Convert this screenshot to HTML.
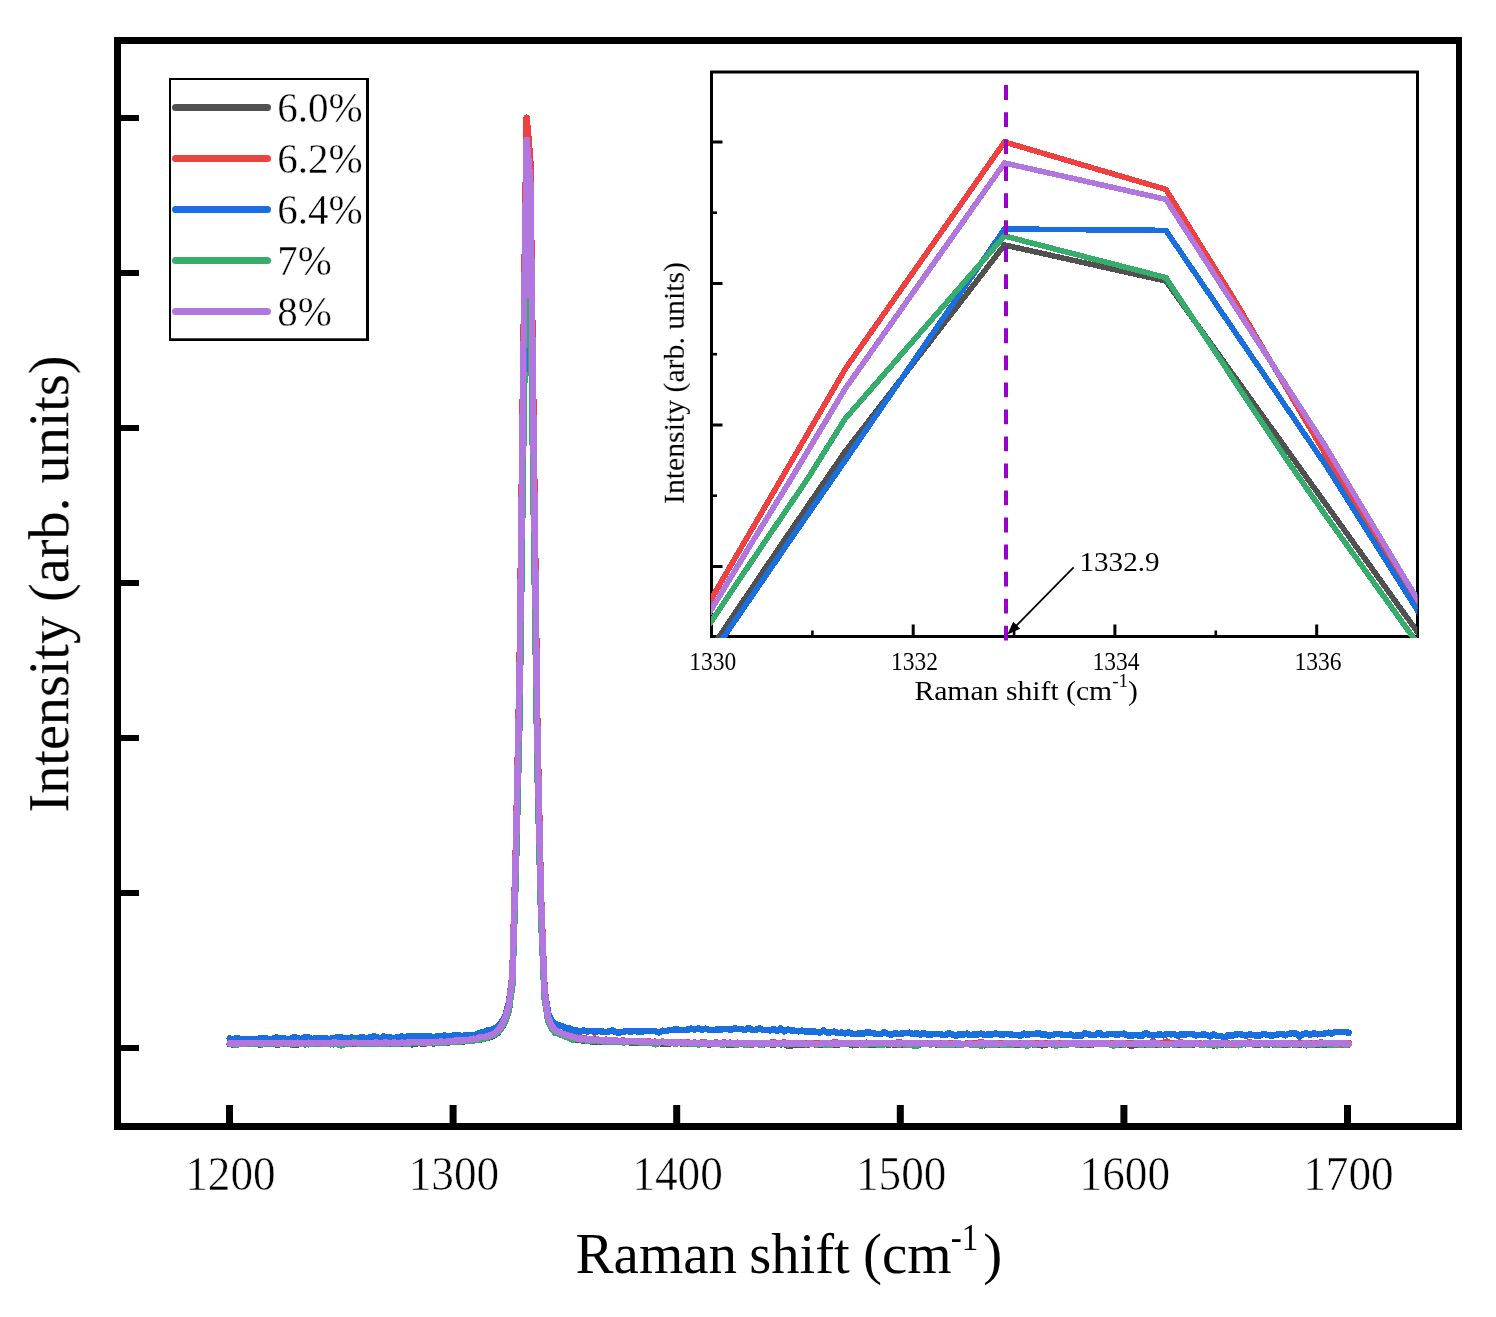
<!DOCTYPE html>
<html><head><meta charset="utf-8"><title>Raman</title>
<style>
html,body{margin:0;padding:0;background:#fff;}
body{width:1496px;height:1317px;overflow:hidden;font-family:"Liberation Serif",serif;}
svg{display:block;}
text{font-family:"Liberation Serif",serif;fill:#000;}
</style></head><body>
<svg width="1496" height="1317" viewBox="0 0 1496 1317">
<rect width="1496" height="1317" fill="#fff"/>
<!-- main data -->
<g fill="none" stroke-width="6.5" stroke-linejoin="round" stroke-linecap="round" shape-rendering="crispEdges">
<path d="M229.72 1044.12 L233.30 1044.44 L236.88 1044.31 L240.46 1043.83 L244.03 1043.79 L247.61 1043.82 L251.19 1044.16 L254.77 1043.85 L258.34 1044.34 L261.92 1044.28 L265.50 1043.37 L269.08 1043.97 L272.65 1043.79 L276.23 1044.48 L279.81 1044.23 L283.39 1044.01 L286.97 1042.39 L290.54 1044.12 L294.12 1044.39 L297.70 1044.52 L301.28 1043.84 L304.85 1044.36 L308.43 1043.87 L312.01 1043.90 L315.59 1044.16 L319.16 1044.05 L322.74 1043.87 L326.32 1043.94 L329.90 1043.58 L333.47 1044.28 L337.05 1043.82 L340.63 1043.97 L344.21 1043.53 L347.78 1043.72 L351.36 1043.51 L354.94 1043.74 L358.52 1044.10 L362.09 1044.13 L365.67 1043.75 L369.25 1043.75 L372.83 1043.87 L376.41 1043.66 L379.98 1043.76 L383.56 1043.84 L387.14 1043.74 L390.72 1043.46 L394.29 1043.87 L397.87 1044.24 L401.45 1043.56 L405.03 1043.19 L408.60 1042.39 L412.18 1044.52 L415.76 1043.41 L419.34 1043.12 L422.91 1043.59 L426.49 1043.31 L430.07 1043.03 L433.65 1043.45 L437.22 1042.99 L440.80 1042.71 L444.38 1042.51 L447.96 1042.88 L451.53 1041.79 L455.11 1041.56 L458.69 1041.78 L462.27 1041.64 L465.85 1041.02 L469.42 1041.24 L473.00 1040.63 L476.58 1039.50 L480.16 1039.71 L483.73 1038.33 L487.31 1037.96 L490.89 1036.69 L494.47 1035.14 L498.04 1032.68 L501.62 1027.82 L505.20 1021.62 L508.78 1010.99 L512.35 984.90 L515.93 869.53 L519.51 719.81 L523.09 454.24 L526.66 230.35 L530.24 266.84 L533.82 516.81 L537.40 767.61 L540.97 913.31 L544.55 998.00 L548.13 1020.61 L551.71 1028.70 L555.29 1032.51 L558.86 1033.84 L562.44 1035.32 L566.02 1036.82 L569.60 1037.95 L573.17 1040.11 L576.75 1039.65 L580.33 1040.04 L583.91 1040.60 L587.48 1040.73 L591.06 1041.39 L594.64 1041.52 L598.22 1041.23 L601.79 1041.90 L605.37 1041.23 L608.95 1041.33 L612.53 1042.09 L616.10 1042.23 L619.68 1042.17 L623.26 1042.17 L626.84 1041.75 L630.41 1042.50 L633.99 1042.89 L637.57 1042.94 L641.15 1042.39 L644.73 1042.59 L648.30 1042.99 L651.88 1042.91 L655.46 1043.48 L659.04 1043.10 L662.61 1043.61 L666.19 1043.70 L669.77 1043.38 L673.35 1042.94 L676.92 1041.88 L680.50 1043.24 L684.08 1043.86 L687.66 1043.53 L691.23 1043.83 L694.81 1043.45 L698.39 1043.67 L701.97 1044.23 L705.54 1044.04 L709.12 1044.42 L712.70 1044.14 L716.28 1044.06 L719.85 1044.02 L723.43 1044.07 L727.01 1044.31 L730.59 1044.58 L734.17 1044.21 L737.74 1044.52 L741.32 1043.82 L744.90 1043.79 L748.48 1043.81 L752.05 1044.55 L755.63 1043.94 L759.21 1044.47 L762.79 1044.69 L766.36 1044.03 L769.94 1044.22 L773.52 1044.81 L777.10 1043.98 L780.67 1044.34 L784.25 1044.02 L787.83 1045.85 L791.41 1045.57 L794.98 1044.35 L798.56 1044.80 L802.14 1044.76 L805.72 1044.72 L809.29 1044.12 L812.87 1044.03 L816.45 1044.67 L820.03 1044.53 L823.61 1044.26 L827.18 1044.38 L830.76 1044.19 L834.34 1044.67 L837.92 1044.76 L841.49 1043.89 L845.07 1044.13 L848.65 1044.10 L852.23 1045.30 L855.80 1044.81 L859.38 1044.01 L862.96 1044.13 L866.54 1042.75 L870.11 1044.82 L873.69 1044.43 L877.27 1044.34 L880.85 1044.17 L884.42 1043.60 L888.00 1044.64 L891.58 1044.10 L895.16 1044.85 L898.73 1044.73 L902.31 1044.41 L905.89 1044.31 L909.47 1044.61 L913.05 1044.27 L916.62 1044.63 L920.20 1044.33 L923.78 1043.99 L927.36 1044.01 L930.93 1044.19 L934.51 1044.03 L938.09 1044.81 L941.67 1044.23 L945.24 1044.24 L948.82 1044.11 L952.40 1044.22 L955.98 1044.93 L959.55 1044.20 L963.13 1044.27 L966.71 1043.97 L970.29 1044.44 L973.86 1044.17 L977.44 1043.98 L981.02 1044.07 L984.60 1045.32 L988.17 1044.61 L991.75 1044.94 L995.33 1044.14 L998.91 1044.77 L1002.49 1044.75 L1006.06 1044.48 L1009.64 1044.60 L1013.22 1044.81 L1016.80 1044.49 L1020.37 1044.68 L1023.95 1044.89 L1027.53 1044.54 L1031.11 1043.99 L1034.68 1044.77 L1038.26 1044.93 L1041.84 1045.35 L1045.42 1044.93 L1048.99 1043.12 L1052.57 1044.59 L1056.15 1043.15 L1059.73 1044.71 L1063.30 1044.49 L1066.88 1044.02 L1070.46 1044.21 L1074.04 1044.22 L1077.61 1044.16 L1081.19 1044.93 L1084.77 1044.33 L1088.35 1044.63 L1091.93 1044.56 L1095.50 1044.02 L1099.08 1044.19 L1102.66 1044.24 L1106.24 1043.95 L1109.81 1044.20 L1113.39 1044.63 L1116.97 1044.22 L1120.55 1044.39 L1124.12 1044.05 L1127.70 1044.13 L1131.28 1046.16 L1134.86 1044.00 L1138.43 1044.92 L1142.01 1044.31 L1145.59 1044.85 L1149.17 1044.01 L1152.74 1044.18 L1156.32 1044.52 L1159.90 1044.19 L1163.48 1044.27 L1167.05 1044.78 L1170.63 1044.06 L1174.21 1044.58 L1177.79 1044.63 L1181.37 1044.28 L1184.94 1044.23 L1188.52 1044.23 L1192.10 1044.83 L1195.68 1043.90 L1199.25 1044.14 L1202.83 1044.28 L1206.41 1043.96 L1209.99 1044.64 L1213.56 1045.46 L1217.14 1044.52 L1220.72 1044.85 L1224.30 1044.19 L1227.87 1044.66 L1231.45 1043.90 L1235.03 1044.27 L1238.61 1044.42 L1242.18 1043.95 L1245.76 1044.28 L1249.34 1044.00 L1252.92 1044.35 L1256.49 1044.41 L1260.07 1044.27 L1263.65 1044.11 L1267.23 1044.51 L1270.81 1044.09 L1274.38 1044.52 L1277.96 1044.49 L1281.54 1044.35 L1285.12 1044.40 L1288.69 1044.18 L1292.27 1044.27 L1295.85 1044.09 L1299.43 1044.40 L1303.00 1044.21 L1306.58 1045.34 L1310.16 1044.22 L1313.74 1044.04 L1317.31 1044.58 L1320.89 1044.40 L1324.47 1044.51 L1328.05 1044.62 L1331.62 1043.92 L1335.20 1044.21 L1338.78 1044.25 L1342.36 1044.63 L1345.93 1043.94 L1348.73 1044.58" stroke="#515151"/>
<path d="M229.72 1043.70 L233.30 1042.80 L236.88 1043.64 L240.46 1043.17 L244.03 1043.47 L247.61 1042.83 L251.19 1042.77 L254.77 1043.35 L258.34 1043.53 L261.92 1042.10 L265.50 1042.85 L269.08 1043.25 L272.65 1042.72 L276.23 1043.22 L279.81 1042.68 L283.39 1043.08 L286.97 1042.93 L290.54 1044.43 L294.12 1043.52 L297.70 1042.82 L301.28 1042.74 L304.85 1044.33 L308.43 1043.18 L312.01 1042.48 L315.59 1043.12 L319.16 1042.69 L322.74 1043.35 L326.32 1042.45 L329.90 1042.82 L333.47 1042.59 L337.05 1043.12 L340.63 1042.57 L344.21 1042.67 L347.78 1042.57 L351.36 1043.09 L354.94 1043.27 L358.52 1042.49 L362.09 1042.71 L365.67 1043.23 L369.25 1042.66 L372.83 1043.23 L376.41 1042.30 L379.98 1042.63 L383.56 1043.11 L387.14 1043.21 L390.72 1042.53 L394.29 1043.12 L397.87 1042.15 L401.45 1042.41 L405.03 1042.28 L408.60 1041.86 L412.18 1042.12 L415.76 1041.81 L419.34 1041.81 L422.91 1042.34 L426.49 1043.16 L430.07 1041.54 L433.65 1041.71 L437.22 1041.91 L440.80 1041.69 L444.38 1041.43 L447.96 1040.94 L451.53 1041.12 L455.11 1040.27 L458.69 1040.44 L462.27 1039.92 L465.85 1039.39 L469.42 1039.79 L473.00 1038.74 L476.58 1038.31 L480.16 1037.92 L483.73 1036.98 L487.31 1035.96 L490.89 1034.88 L494.47 1033.21 L498.04 1029.15 L501.62 1023.79 L505.20 1016.95 L508.78 1004.85 L512.35 975.69 L515.93 844.51 L519.51 674.26 L523.09 372.30 L526.66 117.71 L530.24 159.21 L533.82 443.44 L537.40 728.62 L540.97 894.29 L544.55 990.52 L548.13 1016.00 L551.71 1025.34 L555.29 1029.21 L558.86 1031.79 L562.44 1033.78 L566.02 1034.54 L569.60 1035.79 L573.17 1036.81 L576.75 1037.34 L580.33 1038.61 L583.91 1038.27 L587.48 1038.95 L591.06 1039.75 L594.64 1038.40 L598.22 1039.84 L601.79 1040.34 L605.37 1039.66 L608.95 1039.87 L612.53 1040.85 L616.10 1040.94 L619.68 1041.00 L623.26 1040.52 L626.84 1041.33 L630.41 1041.11 L633.99 1040.86 L637.57 1040.91 L641.15 1041.15 L644.73 1041.67 L648.30 1041.16 L651.88 1041.93 L655.46 1041.65 L659.04 1042.21 L662.61 1041.56 L666.19 1041.97 L669.77 1042.30 L673.35 1041.90 L676.92 1042.23 L680.50 1042.21 L684.08 1042.29 L687.66 1042.42 L691.23 1043.00 L694.81 1042.58 L698.39 1043.03 L701.97 1042.36 L705.54 1042.80 L709.12 1042.81 L712.70 1042.89 L716.28 1042.46 L719.85 1043.11 L723.43 1042.59 L727.01 1042.89 L730.59 1042.69 L734.17 1043.09 L737.74 1042.70 L741.32 1043.42 L744.90 1042.84 L748.48 1043.61 L752.05 1044.48 L755.63 1042.80 L759.21 1043.43 L762.79 1043.39 L766.36 1043.37 L769.94 1042.95 L773.52 1042.02 L777.10 1043.15 L780.67 1043.01 L784.25 1042.37 L787.83 1043.44 L791.41 1043.16 L794.98 1043.63 L798.56 1043.43 L802.14 1043.03 L805.72 1043.15 L809.29 1044.27 L812.87 1043.26 L816.45 1043.41 L820.03 1043.64 L823.61 1043.20 L827.18 1043.16 L830.76 1043.61 L834.34 1042.17 L837.92 1042.90 L841.49 1043.59 L845.07 1042.87 L848.65 1043.20 L852.23 1042.96 L855.80 1043.83 L859.38 1043.65 L862.96 1043.82 L866.54 1043.80 L870.11 1043.01 L873.69 1043.78 L877.27 1043.20 L880.85 1043.01 L884.42 1043.13 L888.00 1043.00 L891.58 1043.78 L895.16 1043.13 L898.73 1041.89 L902.31 1043.27 L905.89 1043.15 L909.47 1043.25 L913.05 1043.14 L916.62 1042.93 L920.20 1043.85 L923.78 1043.41 L927.36 1043.79 L930.93 1043.43 L934.51 1043.63 L938.09 1043.28 L941.67 1043.05 L945.24 1042.99 L948.82 1043.52 L952.40 1043.21 L955.98 1043.22 L959.55 1043.79 L963.13 1043.82 L966.71 1043.67 L970.29 1043.22 L973.86 1043.35 L977.44 1042.98 L981.02 1042.25 L984.60 1042.94 L988.17 1043.05 L991.75 1043.17 L995.33 1043.54 L998.91 1043.58 L1002.49 1043.09 L1006.06 1043.19 L1009.64 1043.04 L1013.22 1043.82 L1016.80 1043.34 L1020.37 1042.95 L1023.95 1043.50 L1027.53 1043.58 L1031.11 1043.87 L1034.68 1043.18 L1038.26 1042.97 L1041.84 1043.33 L1045.42 1042.98 L1048.99 1042.94 L1052.57 1043.86 L1056.15 1043.12 L1059.73 1043.43 L1063.30 1043.73 L1066.88 1043.22 L1070.46 1042.96 L1074.04 1043.69 L1077.61 1042.91 L1081.19 1043.65 L1084.77 1043.65 L1088.35 1043.13 L1091.93 1044.43 L1095.50 1043.79 L1099.08 1043.84 L1102.66 1042.95 L1106.24 1043.57 L1109.81 1043.81 L1113.39 1043.18 L1116.97 1043.78 L1120.55 1043.39 L1124.12 1043.79 L1127.70 1043.08 L1131.28 1043.79 L1134.86 1043.26 L1138.43 1043.25 L1142.01 1043.79 L1145.59 1043.71 L1149.17 1043.34 L1152.74 1041.57 L1156.32 1043.43 L1159.90 1043.07 L1163.48 1042.94 L1167.05 1041.70 L1170.63 1043.48 L1174.21 1043.83 L1177.79 1042.88 L1181.37 1042.19 L1184.94 1043.58 L1188.52 1043.44 L1192.10 1043.66 L1195.68 1043.73 L1199.25 1043.71 L1202.83 1043.78 L1206.41 1043.04 L1209.99 1042.87 L1213.56 1043.64 L1217.14 1043.65 L1220.72 1043.11 L1224.30 1042.92 L1227.87 1043.03 L1231.45 1044.54 L1235.03 1045.05 L1238.61 1043.73 L1242.18 1043.42 L1245.76 1043.10 L1249.34 1042.30 L1252.92 1043.16 L1256.49 1043.34 L1260.07 1043.67 L1263.65 1043.62 L1267.23 1042.80 L1270.81 1043.56 L1274.38 1042.80 L1277.96 1043.29 L1281.54 1042.98 L1285.12 1043.14 L1288.69 1043.05 L1292.27 1043.07 L1295.85 1043.48 L1299.43 1042.89 L1303.00 1042.86 L1306.58 1043.48 L1310.16 1043.40 L1313.74 1043.18 L1317.31 1043.66 L1320.89 1042.36 L1324.47 1043.07 L1328.05 1043.31 L1331.62 1043.75 L1335.20 1043.71 L1338.78 1043.35 L1342.36 1044.66 L1345.93 1043.28 L1348.73 1043.20" stroke="#F14040"/>
<path d="M229.72 1038.45 L233.30 1039.30 L236.88 1038.17 L240.46 1039.12 L244.03 1038.77 L247.61 1039.33 L251.19 1038.97 L254.77 1039.79 L258.34 1038.87 L261.92 1037.96 L265.50 1037.98 L269.08 1039.72 L272.65 1038.87 L276.23 1037.63 L279.81 1037.96 L283.39 1037.86 L286.97 1039.36 L290.54 1039.26 L294.12 1037.14 L297.70 1038.12 L301.28 1039.40 L304.85 1037.06 L308.43 1037.25 L312.01 1039.13 L315.59 1038.29 L319.16 1037.89 L322.74 1038.59 L326.32 1038.68 L329.90 1038.83 L333.47 1038.30 L337.05 1037.48 L340.63 1036.93 L344.21 1038.54 L347.78 1038.14 L351.36 1037.62 L354.94 1038.06 L358.52 1038.16 L362.09 1036.94 L365.67 1038.34 L369.25 1037.62 L372.83 1036.50 L376.41 1036.76 L379.98 1038.60 L383.56 1036.56 L387.14 1037.58 L390.72 1037.48 L394.29 1038.21 L397.87 1037.14 L401.45 1036.60 L405.03 1036.97 L408.60 1036.25 L412.18 1036.75 L415.76 1036.49 L419.34 1035.79 L422.91 1036.71 L426.49 1036.48 L430.07 1036.10 L433.65 1037.75 L437.22 1035.96 L440.80 1036.28 L444.38 1035.44 L447.96 1036.87 L451.53 1035.84 L455.11 1035.05 L458.69 1035.15 L462.27 1036.06 L465.85 1035.01 L469.42 1035.00 L473.00 1035.14 L476.58 1034.57 L480.16 1032.82 L483.73 1032.25 L487.31 1030.46 L490.89 1030.16 L494.47 1028.65 L498.04 1026.09 L501.62 1021.95 L505.20 1016.12 L508.78 1003.29 L512.35 978.12 L515.93 862.06 L519.51 711.49 L523.09 444.57 L526.66 219.50 L530.24 255.97 L533.82 506.88 L537.40 758.61 L540.97 904.78 L544.55 989.44 L548.13 1013.37 L551.71 1021.06 L555.29 1023.97 L558.86 1025.35 L562.44 1026.04 L566.02 1028.51 L569.60 1028.23 L573.17 1030.60 L576.75 1030.49 L580.33 1031.71 L583.91 1030.43 L587.48 1031.58 L591.06 1030.73 L594.64 1031.99 L598.22 1031.07 L601.79 1031.42 L605.37 1032.07 L608.95 1031.35 L612.53 1030.57 L616.10 1032.33 L619.68 1032.55 L623.26 1031.81 L626.84 1031.03 L630.41 1031.71 L633.99 1030.87 L637.57 1031.39 L641.15 1031.83 L644.73 1031.11 L648.30 1030.96 L651.88 1030.96 L655.46 1031.33 L659.04 1032.40 L662.61 1030.75 L666.19 1030.94 L669.77 1030.05 L673.35 1029.72 L676.92 1029.46 L680.50 1030.03 L684.08 1029.88 L687.66 1029.69 L691.23 1028.67 L694.81 1029.57 L698.39 1028.56 L701.97 1029.69 L705.54 1028.68 L709.12 1029.93 L712.70 1029.92 L716.28 1029.66 L719.85 1029.70 L723.43 1029.06 L727.01 1028.73 L730.59 1029.82 L734.17 1028.50 L737.74 1028.84 L741.32 1028.86 L744.90 1030.15 L748.48 1027.87 L752.05 1029.95 L755.63 1029.86 L759.21 1028.44 L762.79 1029.78 L766.36 1030.01 L769.94 1030.34 L773.52 1028.81 L777.10 1030.90 L780.67 1028.41 L784.25 1031.39 L787.83 1029.68 L791.41 1030.42 L794.98 1030.79 L798.56 1031.34 L802.14 1030.57 L805.72 1031.49 L809.29 1031.78 L812.87 1031.43 L816.45 1031.84 L820.03 1032.55 L823.61 1030.55 L827.18 1032.71 L830.76 1032.20 L834.34 1031.58 L837.92 1033.25 L841.49 1032.53 L845.07 1033.47 L848.65 1032.44 L852.23 1033.75 L855.80 1033.84 L859.38 1033.59 L862.96 1033.65 L866.54 1032.48 L870.11 1032.68 L873.69 1033.41 L877.27 1033.89 L880.85 1034.09 L884.42 1032.09 L888.00 1034.09 L891.58 1034.48 L895.16 1033.11 L898.73 1034.08 L902.31 1033.35 L905.89 1033.08 L909.47 1032.73 L913.05 1034.23 L916.62 1033.14 L920.20 1034.62 L923.78 1032.88 L927.36 1034.48 L930.93 1034.48 L934.51 1033.93 L938.09 1033.86 L941.67 1034.62 L945.24 1035.13 L948.82 1032.95 L952.40 1034.55 L955.98 1035.80 L959.55 1034.04 L963.13 1034.91 L966.71 1033.57 L970.29 1035.21 L973.86 1034.35 L977.44 1034.55 L981.02 1033.64 L984.60 1034.90 L988.17 1034.61 L991.75 1034.54 L995.33 1033.44 L998.91 1034.28 L1002.49 1034.91 L1006.06 1033.77 L1009.64 1034.23 L1013.22 1034.96 L1016.80 1034.82 L1020.37 1035.64 L1023.95 1033.66 L1027.53 1034.85 L1031.11 1033.75 L1034.68 1034.25 L1038.26 1032.85 L1041.84 1034.79 L1045.42 1034.55 L1048.99 1035.64 L1052.57 1034.90 L1056.15 1033.76 L1059.73 1034.09 L1063.30 1035.01 L1066.88 1035.09 L1070.46 1034.56 L1074.04 1035.81 L1077.61 1035.53 L1081.19 1035.76 L1084.77 1033.33 L1088.35 1034.13 L1091.93 1035.29 L1095.50 1034.68 L1099.08 1032.79 L1102.66 1035.16 L1106.24 1034.96 L1109.81 1033.79 L1113.39 1034.16 L1116.97 1034.71 L1120.55 1034.13 L1124.12 1033.69 L1127.70 1035.48 L1131.28 1035.57 L1134.86 1035.06 L1138.43 1035.38 L1142.01 1035.88 L1145.59 1033.01 L1149.17 1034.68 L1152.74 1035.58 L1156.32 1035.11 L1159.90 1034.14 L1163.48 1035.35 L1167.05 1034.00 L1170.63 1034.32 L1174.21 1034.08 L1177.79 1035.74 L1181.37 1034.15 L1184.94 1034.54 L1188.52 1034.07 L1192.10 1033.96 L1195.68 1035.45 L1199.25 1035.02 L1202.83 1034.51 L1206.41 1034.79 L1209.99 1036.34 L1213.56 1034.20 L1217.14 1036.14 L1220.72 1035.76 L1224.30 1037.89 L1227.87 1035.29 L1231.45 1035.94 L1235.03 1034.67 L1238.61 1034.01 L1242.18 1034.51 L1245.76 1035.80 L1249.34 1034.26 L1252.92 1035.08 L1256.49 1035.70 L1260.07 1035.33 L1263.65 1033.76 L1267.23 1034.87 L1270.81 1035.54 L1274.38 1035.25 L1277.96 1034.40 L1281.54 1033.77 L1285.12 1035.29 L1288.69 1033.94 L1292.27 1033.21 L1295.85 1033.41 L1299.43 1036.62 L1303.00 1034.04 L1306.58 1033.43 L1310.16 1034.81 L1313.74 1033.25 L1317.31 1034.29 L1320.89 1034.08 L1324.47 1033.50 L1328.05 1032.72 L1331.62 1033.69 L1335.20 1031.90 L1338.78 1032.07 L1342.36 1031.87 L1345.93 1031.97 L1348.73 1032.83" stroke="#1A6FDF"/>
<path d="M229.72 1043.62 L233.30 1044.33 L236.88 1044.42 L240.46 1044.03 L244.03 1044.00 L247.61 1043.64 L251.19 1043.81 L254.77 1044.11 L258.34 1043.63 L261.92 1044.39 L265.50 1043.72 L269.08 1044.15 L272.65 1043.87 L276.23 1043.48 L279.81 1044.15 L283.39 1042.75 L286.97 1044.21 L290.54 1043.66 L294.12 1043.85 L297.70 1044.21 L301.28 1044.21 L304.85 1043.43 L308.43 1044.33 L312.01 1043.61 L315.59 1043.98 L319.16 1043.87 L322.74 1043.76 L326.32 1043.34 L329.90 1044.28 L333.47 1044.23 L337.05 1044.10 L340.63 1045.46 L344.21 1044.18 L347.78 1043.88 L351.36 1043.28 L354.94 1042.06 L358.52 1044.17 L362.09 1043.52 L365.67 1043.32 L369.25 1044.15 L372.83 1043.45 L376.41 1043.71 L379.98 1043.28 L383.56 1043.44 L387.14 1043.43 L390.72 1043.22 L394.29 1043.96 L397.87 1043.63 L401.45 1043.18 L405.03 1043.37 L408.60 1043.45 L412.18 1043.07 L415.76 1042.90 L419.34 1042.99 L422.91 1042.54 L426.49 1043.32 L430.07 1042.94 L433.65 1042.59 L437.22 1042.53 L440.80 1042.29 L444.38 1042.78 L447.96 1041.76 L451.53 1041.93 L455.11 1041.38 L458.69 1042.02 L462.27 1041.00 L465.85 1040.98 L469.42 1041.03 L473.00 1040.66 L476.58 1039.94 L480.16 1039.32 L483.73 1038.62 L487.31 1037.95 L490.89 1035.61 L494.47 1034.96 L498.04 1032.16 L501.62 1027.79 L505.20 1021.37 L508.78 1010.75 L512.35 984.96 L515.93 870.11 L519.51 721.05 L523.09 456.66 L526.66 233.76 L530.24 270.09 L533.82 518.95 L537.40 768.64 L540.97 913.69 L544.55 997.86 L548.13 1021.00 L551.71 1028.39 L555.29 1032.86 L558.86 1033.64 L562.44 1035.39 L566.02 1036.62 L569.60 1038.02 L573.17 1039.79 L576.75 1037.82 L580.33 1039.72 L583.91 1040.01 L587.48 1040.63 L591.06 1041.30 L594.64 1041.02 L598.22 1041.27 L601.79 1041.11 L605.37 1041.69 L608.95 1041.31 L612.53 1041.92 L616.10 1041.32 L619.68 1042.01 L623.26 1042.42 L626.84 1041.96 L630.41 1041.95 L633.99 1042.27 L637.57 1042.06 L641.15 1042.59 L644.73 1043.09 L648.30 1042.25 L651.88 1043.09 L655.46 1044.36 L659.04 1042.84 L662.61 1041.23 L666.19 1043.08 L669.77 1042.92 L673.35 1043.26 L676.92 1043.37 L680.50 1042.99 L684.08 1043.70 L687.66 1043.11 L691.23 1043.60 L694.81 1043.76 L698.39 1044.58 L701.97 1043.41 L705.54 1042.26 L709.12 1044.17 L712.70 1043.39 L716.28 1042.67 L719.85 1044.26 L723.43 1044.35 L727.01 1044.03 L730.59 1043.48 L734.17 1044.31 L737.74 1044.38 L741.32 1043.80 L744.90 1044.48 L748.48 1044.49 L752.05 1043.95 L755.63 1043.81 L759.21 1044.48 L762.79 1044.41 L766.36 1043.79 L769.94 1043.80 L773.52 1043.91 L777.10 1043.74 L780.67 1044.01 L784.25 1043.69 L787.83 1044.46 L791.41 1043.88 L794.98 1043.92 L798.56 1043.67 L802.14 1043.98 L805.72 1044.35 L809.29 1043.92 L812.87 1043.78 L816.45 1044.49 L820.03 1043.81 L823.61 1044.38 L827.18 1044.62 L830.76 1044.61 L834.34 1043.89 L837.92 1043.80 L841.49 1043.93 L845.07 1044.26 L848.65 1043.92 L852.23 1043.89 L855.80 1043.80 L859.38 1044.23 L862.96 1044.46 L866.54 1044.35 L870.11 1044.00 L873.69 1043.78 L877.27 1044.55 L880.85 1044.36 L884.42 1044.27 L888.00 1044.21 L891.58 1043.77 L895.16 1043.94 L898.73 1044.43 L902.31 1044.12 L905.89 1044.49 L909.47 1044.58 L913.05 1045.30 L916.62 1045.92 L920.20 1043.98 L923.78 1044.08 L927.36 1043.92 L930.93 1044.65 L934.51 1043.15 L938.09 1044.35 L941.67 1044.50 L945.24 1044.49 L948.82 1044.38 L952.40 1044.32 L955.98 1044.25 L959.55 1044.69 L963.13 1044.34 L966.71 1043.88 L970.29 1044.42 L973.86 1044.65 L977.44 1044.47 L981.02 1045.76 L984.60 1043.99 L988.17 1044.53 L991.75 1044.48 L995.33 1044.53 L998.91 1044.07 L1002.49 1044.73 L1006.06 1044.72 L1009.64 1044.52 L1013.22 1044.41 L1016.80 1043.84 L1020.37 1044.21 L1023.95 1044.71 L1027.53 1045.84 L1031.11 1043.95 L1034.68 1044.55 L1038.26 1044.03 L1041.84 1043.94 L1045.42 1043.86 L1048.99 1043.90 L1052.57 1044.25 L1056.15 1045.77 L1059.73 1043.89 L1063.30 1044.46 L1066.88 1044.46 L1070.46 1044.00 L1074.04 1043.87 L1077.61 1044.69 L1081.19 1043.90 L1084.77 1044.59 L1088.35 1043.95 L1091.93 1043.76 L1095.50 1043.79 L1099.08 1044.04 L1102.66 1044.05 L1106.24 1043.90 L1109.81 1044.30 L1113.39 1045.59 L1116.97 1044.72 L1120.55 1043.81 L1124.12 1044.71 L1127.70 1043.83 L1131.28 1044.16 L1134.86 1042.97 L1138.43 1044.37 L1142.01 1044.65 L1145.59 1043.97 L1149.17 1045.15 L1152.74 1044.55 L1156.32 1043.90 L1159.90 1044.56 L1163.48 1043.88 L1167.05 1044.54 L1170.63 1044.03 L1174.21 1044.53 L1177.79 1044.07 L1181.37 1044.07 L1184.94 1045.24 L1188.52 1044.60 L1192.10 1044.19 L1195.68 1043.85 L1199.25 1044.27 L1202.83 1044.38 L1206.41 1044.13 L1209.99 1045.07 L1213.56 1044.16 L1217.14 1045.35 L1220.72 1043.82 L1224.30 1043.73 L1227.87 1044.57 L1231.45 1043.68 L1235.03 1043.85 L1238.61 1045.35 L1242.18 1044.24 L1245.76 1044.21 L1249.34 1044.09 L1252.92 1044.29 L1256.49 1044.06 L1260.07 1043.74 L1263.65 1044.38 L1267.23 1044.31 L1270.81 1044.08 L1274.38 1044.31 L1277.96 1044.52 L1281.54 1044.28 L1285.12 1043.87 L1288.69 1044.34 L1292.27 1044.22 L1295.85 1044.59 L1299.43 1043.88 L1303.00 1043.90 L1306.58 1044.61 L1310.16 1044.38 L1313.74 1044.47 L1317.31 1043.82 L1320.89 1044.34 L1324.47 1044.09 L1328.05 1044.32 L1331.62 1044.53 L1335.20 1044.47 L1338.78 1044.42 L1342.36 1044.12 L1345.93 1044.46 L1348.73 1044.24" stroke="#37AD6B"/>
<path d="M229.72 1043.40 L233.30 1043.34 L236.88 1043.55 L240.46 1043.40 L244.03 1043.81 L247.61 1043.02 L251.19 1043.29 L254.77 1042.90 L258.34 1043.17 L261.92 1043.40 L265.50 1043.18 L269.08 1042.81 L272.65 1042.79 L276.23 1043.44 L279.81 1043.68 L283.39 1043.17 L286.97 1042.82 L290.54 1042.83 L294.12 1043.59 L297.70 1042.75 L301.28 1043.64 L304.85 1042.84 L308.43 1042.75 L312.01 1043.35 L315.59 1042.96 L319.16 1042.96 L322.74 1043.43 L326.32 1043.38 L329.90 1043.30 L333.47 1042.56 L337.05 1042.79 L340.63 1042.77 L344.21 1043.03 L347.78 1043.03 L351.36 1042.85 L354.94 1042.97 L358.52 1043.29 L362.09 1042.81 L365.67 1042.80 L369.25 1042.76 L372.83 1043.03 L376.41 1042.44 L379.98 1043.31 L383.56 1042.63 L387.14 1042.73 L390.72 1043.06 L394.29 1042.37 L397.87 1043.27 L401.45 1042.64 L405.03 1042.91 L408.60 1042.52 L412.18 1042.02 L415.76 1042.12 L419.34 1041.93 L422.91 1042.63 L426.49 1042.49 L430.07 1042.20 L433.65 1042.28 L437.22 1041.95 L440.80 1041.50 L444.38 1042.01 L447.96 1041.53 L451.53 1040.80 L455.11 1040.74 L458.69 1040.08 L462.27 1040.81 L465.85 1040.06 L469.42 1039.82 L473.00 1038.73 L476.58 1038.82 L480.16 1037.34 L483.73 1037.09 L487.31 1036.22 L490.89 1035.06 L494.47 1033.54 L498.04 1030.46 L501.62 1025.08 L505.20 1017.87 L508.78 1005.99 L512.35 977.46 L515.93 849.42 L519.51 683.24 L523.09 388.50 L526.66 140.00 L530.24 180.50 L533.82 457.94 L537.40 736.29 L540.97 898.00 L544.55 991.68 L548.13 1016.96 L551.71 1025.93 L555.29 1030.40 L558.86 1031.76 L562.44 1033.72 L566.02 1035.10 L569.60 1036.08 L573.17 1036.92 L576.75 1038.27 L580.33 1038.59 L583.91 1039.10 L587.48 1039.68 L591.06 1039.48 L594.64 1039.85 L598.22 1039.66 L601.79 1040.72 L605.37 1040.21 L608.95 1040.55 L612.53 1040.68 L616.10 1040.36 L619.68 1041.05 L623.26 1041.39 L626.84 1041.50 L630.41 1040.82 L633.99 1041.04 L637.57 1041.40 L641.15 1041.66 L644.73 1041.32 L648.30 1042.13 L651.88 1042.23 L655.46 1041.76 L659.04 1042.40 L662.61 1041.82 L666.19 1041.83 L669.77 1042.80 L673.35 1042.26 L676.92 1042.35 L680.50 1042.92 L684.08 1042.39 L687.66 1043.10 L691.23 1043.02 L694.81 1042.72 L698.39 1043.17 L701.97 1043.18 L705.54 1043.42 L709.12 1043.34 L712.70 1043.09 L716.28 1043.50 L719.85 1043.44 L723.43 1043.65 L727.01 1042.83 L730.59 1042.91 L734.17 1043.62 L737.74 1043.42 L741.32 1043.18 L744.90 1043.20 L748.48 1043.60 L752.05 1043.78 L755.63 1043.46 L759.21 1043.04 L762.79 1043.62 L766.36 1043.16 L769.94 1043.48 L773.52 1043.57 L777.10 1043.88 L780.67 1042.99 L784.25 1043.11 L787.83 1043.85 L791.41 1043.51 L794.98 1043.23 L798.56 1043.29 L802.14 1043.40 L805.72 1043.91 L809.29 1043.63 L812.87 1043.67 L816.45 1043.87 L820.03 1043.79 L823.61 1043.27 L827.18 1043.13 L830.76 1043.86 L834.34 1043.51 L837.92 1043.72 L841.49 1043.59 L845.07 1043.21 L848.65 1042.99 L852.23 1043.02 L855.80 1043.43 L859.38 1043.88 L862.96 1043.27 L866.54 1043.49 L870.11 1043.09 L873.69 1043.24 L877.27 1043.05 L880.85 1043.13 L884.42 1043.05 L888.00 1043.08 L891.58 1043.83 L895.16 1043.59 L898.73 1043.73 L902.31 1043.02 L905.89 1043.29 L909.47 1043.67 L913.05 1043.04 L916.62 1043.35 L920.20 1043.06 L923.78 1043.36 L927.36 1043.91 L930.93 1043.07 L934.51 1043.53 L938.09 1043.66 L941.67 1043.85 L945.24 1043.23 L948.82 1043.92 L952.40 1043.86 L955.98 1043.15 L959.55 1043.68 L963.13 1043.85 L966.71 1044.06 L970.29 1043.47 L973.86 1044.02 L977.44 1043.95 L981.02 1043.11 L984.60 1043.40 L988.17 1043.74 L991.75 1043.41 L995.33 1043.51 L998.91 1043.81 L1002.49 1043.93 L1006.06 1043.25 L1009.64 1043.11 L1013.22 1043.30 L1016.80 1043.62 L1020.37 1043.93 L1023.95 1043.44 L1027.53 1043.45 L1031.11 1043.43 L1034.68 1043.76 L1038.26 1043.94 L1041.84 1043.23 L1045.42 1044.06 L1048.99 1043.65 L1052.57 1043.30 L1056.15 1043.69 L1059.73 1043.88 L1063.30 1043.54 L1066.88 1043.09 L1070.46 1043.71 L1074.04 1043.71 L1077.61 1043.61 L1081.19 1043.76 L1084.77 1043.61 L1088.35 1043.41 L1091.93 1043.58 L1095.50 1043.32 L1099.08 1043.30 L1102.66 1043.60 L1106.24 1043.14 L1109.81 1043.85 L1113.39 1044.01 L1116.97 1043.19 L1120.55 1043.66 L1124.12 1043.43 L1127.70 1044.01 L1131.28 1043.96 L1134.86 1043.65 L1138.43 1043.15 L1142.01 1043.56 L1145.59 1043.22 L1149.17 1043.79 L1152.74 1043.27 L1156.32 1043.62 L1159.90 1043.75 L1163.48 1043.91 L1167.05 1043.88 L1170.63 1043.86 L1174.21 1043.78 L1177.79 1043.53 L1181.37 1043.35 L1184.94 1043.71 L1188.52 1043.44 L1192.10 1043.85 L1195.68 1043.20 L1199.25 1043.90 L1202.83 1043.89 L1206.41 1043.37 L1209.99 1043.20 L1213.56 1043.77 L1217.14 1043.01 L1220.72 1043.64 L1224.30 1042.99 L1227.87 1043.78 L1231.45 1043.89 L1235.03 1043.64 L1238.61 1043.32 L1242.18 1043.19 L1245.76 1043.34 L1249.34 1043.87 L1252.92 1043.34 L1256.49 1043.61 L1260.07 1043.82 L1263.65 1042.98 L1267.23 1042.97 L1270.81 1043.66 L1274.38 1043.19 L1277.96 1043.30 L1281.54 1043.27 L1285.12 1043.37 L1288.69 1043.22 L1292.27 1043.82 L1295.85 1043.43 L1299.43 1043.91 L1303.00 1043.72 L1306.58 1043.41 L1310.16 1043.86 L1313.74 1043.69 L1317.31 1043.88 L1320.89 1043.06 L1324.47 1043.22 L1328.05 1043.01 L1331.62 1042.92 L1335.20 1043.79 L1338.78 1043.16 L1342.36 1043.23 L1345.93 1043.52 L1348.73 1043.86" stroke="#B177DE"/>
</g>
<!-- slivers inside peak -->
<line x1="527.6" x2="527.6" y1="298" y2="372" stroke="#37AD6B" stroke-width="1.6"/>
<line x1="527.2" x2="527.2" y1="348" y2="372" stroke="#1A6FDF" stroke-width="1.2"/>
<!-- main frame -->
<g fill="#000"><rect x="114" y="37" width="7" height="1093"/><rect x="114" y="37" width="1348" height="7"/><rect x="1456" y="37" width="6" height="1093"/><rect x="114" y="1123" width="1348" height="7"/></g>
<g fill="#000">
<rect x="120" y="115.0" width="19" height="6"/>
<rect x="120" y="270.0" width="19" height="6"/>
<rect x="120" y="425.0" width="19" height="6"/>
<rect x="120" y="580.0" width="19" height="6"/>
<rect x="120" y="735.0" width="19" height="6"/>
<rect x="120" y="890.0" width="19" height="6"/>
<rect x="120" y="1045.0" width="19" height="6"/>
<rect x="226.0" y="1105" width="7" height="19"/>
<rect x="449.6" y="1105" width="7" height="19"/>
<rect x="673.2" y="1105" width="7" height="19"/>
<rect x="896.8" y="1105" width="7" height="19"/>
<rect x="1120.4" y="1105" width="7" height="19"/>
<rect x="1344.0" y="1105" width="7" height="19"/>
</g>
<!-- legend -->
<rect x="169" y="78" width="200" height="263" fill="#000"/><rect x="171" y="80" width="195" height="258.3" fill="#fff"/>
<line x1="175.5" x2="267.5" y1="107.6" y2="107.6" stroke="#515151" stroke-width="7" stroke-linecap="round"/>
<line x1="175.5" x2="267.5" y1="158.6" y2="158.6" stroke="#F14040" stroke-width="7" stroke-linecap="round"/>
<line x1="175.5" x2="267.5" y1="209.5" y2="209.5" stroke="#1A6FDF" stroke-width="7" stroke-linecap="round"/>
<line x1="175.5" x2="267.5" y1="260.5" y2="260.5" stroke="#37AD6B" stroke-width="7" stroke-linecap="round"/>
<line x1="175.5" x2="267.5" y1="311.4" y2="311.4" stroke="#B177DE" stroke-width="7" stroke-linecap="round"/>
<!-- inset -->
<rect x="711.5" y="72" width="706" height="564.5" fill="#fff"/>
<clipPath id="ic"><rect x="711" y="72" width="706.5" height="566"/></clipPath>
<rect x="711.5" y="72" width="706" height="564.5" fill="none" stroke="#000" stroke-width="3"/>
<g fill="none" stroke-width="5.6" stroke-linejoin="miter" clip-path="url(#ic)" shape-rendering="crispEdges">
<path d="M690.00 679.70 L719.20 636.50 L784.40 540.00 L825.60 480.00 L845.00 451.80 L1004.50 245.00 L1165.90 281.00 L1417.50 632.00 L1440.00 663.40" stroke="#515151"/>
<path d="M682.60 648.30 L711.50 598.50 L845.50 368.60 L1004.50 142.00 L1165.90 189.40 L1234.50 300.00 L1328.80 460.00 L1378.70 540.00 L1417.50 603.50 L1440.00 640.00" stroke="#F14040"/>
<path d="M695.00 679.00 L724.20 636.50 L790.20 540.00 L831.70 480.00 L845.00 460.80 L1004.50 229.00 L1165.90 230.40 L1326.70 466.60 L1417.50 610.50 L1440.00 646.20" stroke="#1A6FDF"/>
<path d="M682.60 664.00 L711.50 621.00 L766.00 540.00 L806.80 480.00 L845.00 419.00 L1004.50 236.00 L1165.90 277.60 L1286.90 460.00 L1326.70 516.90 L1411.60 635.20 L1440.00 674.80" stroke="#37AD6B"/>
<path d="M682.60 657.00 L711.50 609.30 L753.50 540.00 L790.40 480.00 L845.00 389.00 L1004.50 163.00 L1165.90 199.40 L1326.70 448.30 L1417.50 599.60 L1440.00 637.10" stroke="#B177DE"/>
</g>
<g fill="#000">
<rect x="712" y="140.5" width="10.5" height="3"/>
<rect x="712" y="282.0" width="10.5" height="3"/>
<rect x="712" y="423.5" width="10.5" height="3"/>
<rect x="712" y="565.0" width="10.5" height="3"/>
<rect x="712" y="211.4" width="5" height="2.6"/>
<rect x="712" y="352.9" width="5" height="2.6"/>
<rect x="712" y="494.4" width="5" height="2.6"/>
<rect x="911.7" y="624.5" width="3" height="11"/>
<rect x="1113.4" y="624.5" width="3" height="11"/>
<rect x="1315.2" y="624.5" width="3" height="11"/>
<rect x="811.1" y="630.5" width="2.6" height="5"/>
<rect x="1012.8" y="630.5" width="2.6" height="5"/>
<rect x="1214.5" y="630.5" width="2.6" height="5"/>
</g>
<line x1="1006" x2="1006" y1="85.1" y2="640.5" stroke="#9B00C9" stroke-width="4" stroke-dasharray="14.8 12.23"/>
<!-- arrow -->
<line x1="1073.6" y1="567.3" x2="1013" y2="629" stroke="#000" stroke-width="1.7"/>
<polygon points="1007.3,634.7 1013.2,621.8 1020.2,628.8" fill="#000"/>
<g opacity="0.999">
<text x="230.4" y="1189.6" font-size="43" text-anchor="middle" textLength="90.5" lengthAdjust="spacingAndGlyphs" stroke="#fff" stroke-width="0.5" transform="translate(0 1189.8) scale(1 1.125) translate(0 -1189.6)">1200</text>
<text x="454.0" y="1189.6" font-size="43" text-anchor="middle" textLength="90.5" lengthAdjust="spacingAndGlyphs" stroke="#fff" stroke-width="0.5" transform="translate(0 1189.8) scale(1 1.125) translate(0 -1189.6)">1300</text>
<text x="677.6" y="1189.6" font-size="43" text-anchor="middle" textLength="90.5" lengthAdjust="spacingAndGlyphs" stroke="#fff" stroke-width="0.5" transform="translate(0 1189.8) scale(1 1.125) translate(0 -1189.6)">1400</text>
<text x="901.2" y="1189.6" font-size="43" text-anchor="middle" textLength="90.5" lengthAdjust="spacingAndGlyphs" stroke="#fff" stroke-width="0.5" transform="translate(0 1189.8) scale(1 1.125) translate(0 -1189.6)">1500</text>
<text x="1124.8" y="1189.6" font-size="43" text-anchor="middle" textLength="90.5" lengthAdjust="spacingAndGlyphs" stroke="#fff" stroke-width="0.5" transform="translate(0 1189.8) scale(1 1.125) translate(0 -1189.6)">1600</text>
<text x="1348.4" y="1189.6" font-size="43" text-anchor="middle" textLength="90.5" lengthAdjust="spacingAndGlyphs" stroke="#fff" stroke-width="0.5" transform="translate(0 1189.8) scale(1 1.125) translate(0 -1189.6)">1700</text>
<text x="575.6" y="1273.2" font-size="57">Raman</text>
<text x="749.2" y="1273.2" font-size="57" textLength="100.6" lengthAdjust="spacingAndGlyphs">shift</text>
<text x="863.1" y="1273.2" font-size="57">(cm</text>
<text x="950.8" y="1250.4" font-size="38.5" textLength="27.5" lengthAdjust="spacingAndGlyphs">-1</text>
<text x="983.2" y="1273.2" font-size="57">)</text>
<text transform="translate(68.2 584) rotate(-90)" font-size="58" text-anchor="middle" textLength="457" lengthAdjust="spacingAndGlyphs">Intensity (arb. units)</text>
<text x="277.2" y="121.9" font-size="42" stroke="#fff" stroke-width="0.4" textLength="85.5" lengthAdjust="spacingAndGlyphs">6.0%</text>
<text x="277.2" y="172.9" font-size="42" stroke="#fff" stroke-width="0.4" textLength="85.5" lengthAdjust="spacingAndGlyphs">6.2%</text>
<text x="277.2" y="223.8" font-size="42" stroke="#fff" stroke-width="0.4" textLength="85.5" lengthAdjust="spacingAndGlyphs">6.4%</text>
<text x="277.2" y="274.8" font-size="42" stroke="#fff" stroke-width="0.4" textLength="54.6" lengthAdjust="spacingAndGlyphs">7%</text>
<text x="277.2" y="325.7" font-size="42" stroke="#fff" stroke-width="0.4" textLength="54.6" lengthAdjust="spacingAndGlyphs">8%</text>
<text x="712.7" y="670" font-size="22" text-anchor="middle" textLength="47" lengthAdjust="spacingAndGlyphs" transform="translate(0 670) scale(1 1.1) translate(0 -670)">1330</text>
<text x="914.4" y="670" font-size="22" text-anchor="middle" textLength="47" lengthAdjust="spacingAndGlyphs" transform="translate(0 670) scale(1 1.1) translate(0 -670)">1332</text>
<text x="1116.1" y="670" font-size="22" text-anchor="middle" textLength="47" lengthAdjust="spacingAndGlyphs" transform="translate(0 670) scale(1 1.1) translate(0 -670)">1334</text>
<text x="1317.9" y="670" font-size="22" text-anchor="middle" textLength="47" lengthAdjust="spacingAndGlyphs" transform="translate(0 670) scale(1 1.1) translate(0 -670)">1336</text>
<text x="1026.2" y="699.8" font-size="28" text-anchor="middle" textLength="223.6" lengthAdjust="spacingAndGlyphs">Raman shift (cm<tspan font-size="18" dy="-12.5">-1</tspan><tspan dy="12.5">)</tspan></text>
<text transform="translate(683.8 383) rotate(-90)" font-size="29" text-anchor="middle" textLength="242" lengthAdjust="spacingAndGlyphs">Intensity (arb. units)</text>
<text x="1079.5" y="571" font-size="28" textLength="80" lengthAdjust="spacingAndGlyphs">1332.9</text>
</g>
</svg>
</body></html>
